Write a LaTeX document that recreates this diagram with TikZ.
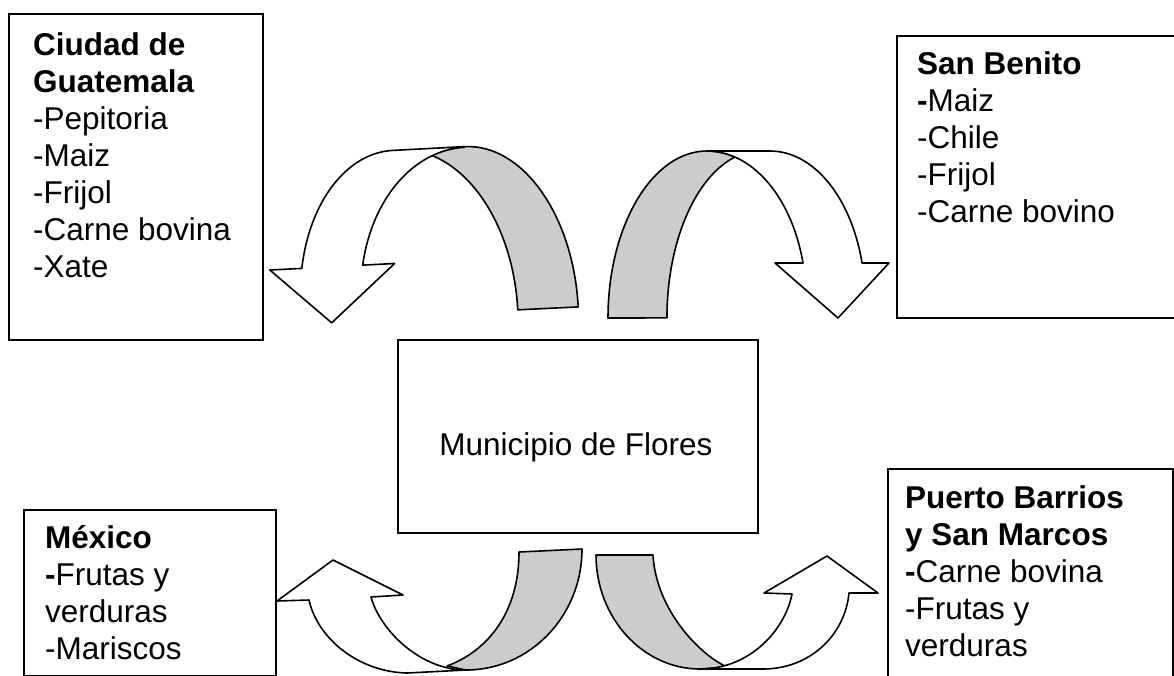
\documentclass[tikz,border=0pt]{standalone}
\usepackage{fontspec}
\setmainfont{Liberation Sans}
\definecolor{backgray}{HTML}{CCCCCC}
\begin{document}
\begin{tikzpicture}[x=1pt,y=-1pt,
  box/.style={draw=black, line width=1.8pt, inner sep=0pt, anchor=north west},
  lbl/.style={anchor=base west, inner sep=0pt, font=\fontsize{31.5}{37}\selectfont},
  back/.style={draw=black, line width=1.6pt, line join=round, fill=backgray},
  front/.style={draw=black, line width=1.6pt, line join=round, fill=white}]
\useasboundingbox (0,0) rectangle (1174,675);
% boxes
\node[box, minimum width=254pt, minimum height=326pt] (gua) at (8,13) {};
\node[box, minimum width=290pt, minimum height=282pt] (sb) at (896,35) {};
\node[box, minimum width=360pt, minimum height=193pt] (mun) at (397,339) {};
\node[box, minimum width=252pt, minimum height=166pt] (mex) at (23,509) {};
\node[box, minimum width=285pt, minimum height=215pt] (pb) at (887,468) {};
% texts
\node[lbl] (guat) at (33,55) {\begin{tabular}[t]{@{}l@{}}\textbf{Ciudad de}\\\textbf{Guatemala}\\-Pepitoria\\-Maiz\\-Frijol\\-Carne bovina\\-Xate\end{tabular}};
\node[lbl] (sbt) at (917,74) {\begin{tabular}[t]{@{}l@{}}\textbf{San Benito}\\\textbf{-}Maiz\\-Chile\\-Frijol\\-Carne bovino\end{tabular}};
\node[lbl, anchor=base] (munt) at (576,455) {Municipio de Flores};
\node[lbl] (mext) at (45,548) {\begin{tabular}[t]{@{}l@{}}\textbf{México}\\\textbf{-}Frutas y\\verduras\\-Mariscos\end{tabular}};
\node[lbl] (pbt) at (905,508) {\begin{tabular}[t]{@{}l@{}}\textbf{Puerto Barrios}\\\textbf{y San Marcos}\\\textbf{-}Carne bovina\\-Frutas y\\verduras\end{tabular}};
% top-left curved arrow
\begin{scope}[rotate around={3:(460,230)}]
\draw[back] (574,313) arc[start angle=0, end angle=-90, x radius=105, y radius=166]
  arc[start angle=-90, end angle=-107.5, x radius=111.5, y radius=149.5]
  arc[start angle=-73.1, end angle=0, x radius=110, y radius=166] -- cycle;
\draw[front] (469,147) -- (397,147) arc[start angle=-90, end angle=-165.9, x radius=100, y radius=149.5]
  -- (268,260) -- (327,316) -- (393,260) -- (361,260)
  arc[start angle=-165.6, end angle=-90, x radius=111.5, y radius=149.5] -- cycle;
\end{scope}
% top-right curved arrow
\draw[back] (608,318) arc[start angle=180, end angle=270, x radius=99, y radius=167]
  arc[start angle=-90, end angle=-73.6, x radius=99, y radius=149]
  arc[start angle=-105.6, end angle=-180, x radius=93, y radius=167] -- cycle;
\draw[front] (707,151) -- (770,151) arc[start angle=-90, end angle=-14.4, x radius=95, y radius=149]
  -- (889,263) -- (838,318) -- (775,263) -- (803,263)
  arc[start angle=-14.4, end angle=-90, x radius=99, y radius=149] -- cycle;
% bottom-left curved arrow
\draw[back] (519,552) -- (582,549) .. controls (582,616) and (530,670) .. (466,670)
  -- (447,666) .. controls (490,650) and (519,610) .. (519,552) -- cycle;
\draw[front] (466,670) -- (407,673) .. controls (360,672) and (318,640) .. (309,600)
  -- (277,601) -- (333,560) -- (403,595) -- (371,597)
  .. controls (380,630) and (420,670) .. (466,670) -- cycle;
% bottom-right curved arrow
\draw[back] (596,555) -- (653,555) .. controls (656,610) and (700,655) .. (727,667)
  -- (700,669) .. controls (643,669) and (596,618) .. (596,555) -- cycle;
\draw[front] (700,669) -- (763,669) .. controls (810,669) and (845,635) .. (849,593)
  -- (878,593) -- (827,556) -- (764,593) -- (792,594)
  .. controls (785,630) and (750,669) .. (700,669) -- cycle;
\end{tikzpicture}
\end{document}
